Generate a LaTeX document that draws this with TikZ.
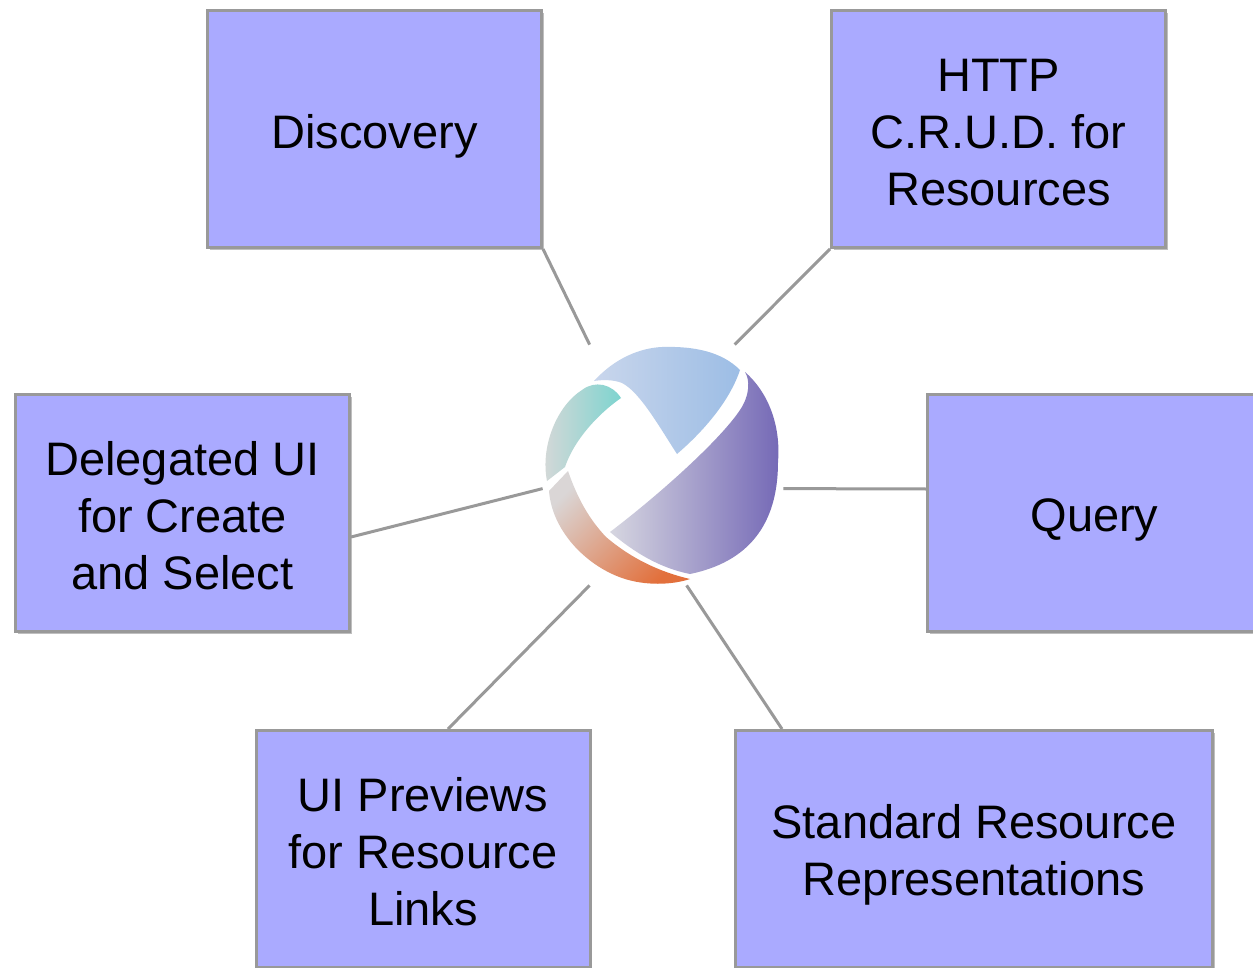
\documentclass[tikz,border=0pt]{standalone}
\usepackage{fontspec}
\setmainfont{Liberation Sans}
\usetikzlibrary{shadows,calc}
\definecolor{boxfill}{HTML}{AAAAFF}
\definecolor{boxline}{HTML}{999999}
\definecolor{tealc}{HTML}{7DD4CF}
\definecolor{tealg}{HTML}{D8D8D8}
\definecolor{bluel}{HTML}{C9D6EC}
\definecolor{bluer}{HTML}{9CBDE5}
\definecolor{purl}{HTML}{D6D6E0}
\definecolor{purr}{HTML}{7468B6}
\definecolor{orl}{HTML}{DAD6D6}
\definecolor{orr}{HTML}{E2703C}
\tikzset{
  feature/.style={draw=boxline, line width=1.5pt, fill=boxfill,
    minimum width=167pt, minimum height=118.5pt, inner sep=0pt,
    drop shadow={shadow xshift=1.2pt, shadow yshift=-1.2pt, opacity=0.25, fill=black}},
  wide/.style={minimum width=238.5pt},
  ftext/.style={align=center, inner sep=0pt, font=\fontsize{23.5pt}{28.5pt}\selectfont},
  link/.style={draw=boxline, line width=1.5pt},
  logobox/.style={minimum size=120pt, inner sep=0pt}
}
\begin{document}
\begin{tikzpicture}[x=0.5pt, y=-0.5pt]
\useasboundingbox (0,0) rectangle (1253,968);
\fill[white] (0,0) rectangle (1253,968);

% logo frame
\node[logobox] (logo) at (663,465) {};
% teal ribbon
\path[left color=tealg, right color=tealc]
  (582,390) .. controls (595,380) and (612,384) .. (621,398)
  .. controls (598,414) and (574,440) .. (565,467)
  -- (547,481)
  .. controls (540,445) and (558,405) .. (582,390) -- cycle;
% blue ribbon
\path[left color=bluel, right color=bluer]
  (594,381) .. controls (615,358) and (640,348) .. (662,347)
  .. controls (695,346) and (722,352) .. (740,370)
  .. controls (730,400) and (705,430) .. (677,454)
  .. controls (660,428) and (640,392) .. (622,383)
  .. controls (612,379) and (600,380) .. (594,381) -- cycle;
% purple ribbon
\path[left color=purl, right color=purr]
  (610,532) .. controls (660,494) and (720,440) .. (740,410)
  .. controls (750,395) and (750,380) .. (745,372)
  .. controls (768,392) and (781,425) .. (778,462)
  .. controls (778,525) and (748,562) .. (690,574)
  .. controls (660,568) and (635,553) .. (610,532) -- cycle;
% orange ribbon
\path[top color=orl, bottom color=orr, shading angle=45]
  (549,491) -- (568,471)
  .. controls (578,500) and (590,520) .. (606,537)
  .. controls (632,559) and (660,572) .. (690,579)
  .. controls (672,585) and (645,586) .. (622,578)
  .. controls (585,565) and (552,530) .. (549,491) -- cycle;

% feature boxes
\node[feature, label={[ftext, yshift=-3.5pt]center:Discovery}] (disc) at (374.5,129) {};
\node[feature, label={[ftext, yshift=-1.6pt]center:{HTTP\\C.R.U.D. for\\Resources}}] (http) at (998.5,129) {};
\node[feature, label={[ftext, yshift=-1.4pt]center:{Delegated UI\\for Create\\and Select}}] (deleg) at (182.5,513) {};
\node[feature, label={[ftext, yshift=-3.5pt]center:Query}] (query) at (1094.5,513) {};
\node[feature, label={[ftext, yshift=-1.1pt]center:{UI Previews\\for Resource\\Links}}] (uiprev) at (423,849) {};
\node[feature, wide, label={[ftext, yshift=-3pt]center:{Standard Resource\\Representations}}] (std) at (974,849) {};

% anchor points on logo frame
\coordinate (lA) at ($(logo.north west)+(47,0)$);
\coordinate (lB) at ($(logo.north west)+(192,0)$);
\coordinate (lC) at ($(logo.north west)+(0,144)$);
\coordinate (lD) at ($(logo.north east)+(0,144)$);
\coordinate (lE) at ($(logo.south west)+(47,0)$);
\coordinate (lF) at ($(logo.south west)+(144,0)$);

% connectors
\draw[link] (disc.south east) -- (lA);
\draw[link] (http.south west) -- (lB);
\draw[link] ($(deleg.east)+(0,24)$) -- (lC);
\draw[link] ($(query.west)+(0,-24)$) -- (lD);
\draw[link] ($(uiprev.north)+(25,0)$) -- (lE);
\draw[link] ($(std.north west)+(48,0)$) -- (lF);
\end{tikzpicture}
\end{document}
